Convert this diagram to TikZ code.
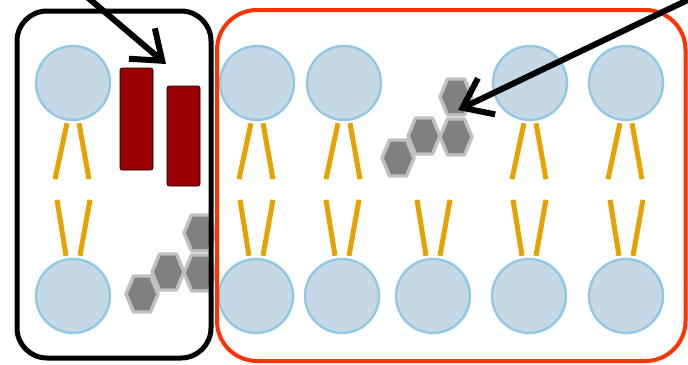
\documentclass[tikz,border=0pt]{standalone}
\usepackage{tikz}
\usetikzlibrary{positioning}
\usetikzlibrary{arrows.meta}

\definecolor{headfill}{RGB}{197,216,230}
\definecolor{headline}{RGB}{145,200,228}
\definecolor{tailcol}{RGB}{230,162,0}
\definecolor{peptide}{RGB}{153,0,0}
\definecolor{drugfill}{RGB}{128,128,128}
\definecolor{drugline}{RGB}{192,192,192}
\definecolor{raftcol}{RGB}{255,51,0}

\newcommand{\hexa}[2]{\draw[drug] (#1-16,#2)--(#1-8.5,#2-18)--(#1+8.5,#2-18)--(#1+16,#2)--(#1+8.5,#2+18)--(#1-8.5,#2+18)--cycle;}

\begin{document}
\begin{tikzpicture}[x=0.75pt,y=-0.75pt,
  head/.style={circle,draw=headline,fill=headfill,line width=1.8pt,minimum size=55.5pt,inner sep=0pt},
  tail/.style={draw=tailcol,line width=3.75pt},
  drug/.style={fill=drugfill,draw=drugline,line width=2.6pt,line join=round},
  pep/.style={fill=peptide,rounded corners=1.5pt},
  pointer/.style={draw=black,line width=4.5pt,-{Straight Barb[length=20pt,width=30pt]}}]
 \useasboundingbox (0,0) rectangle (688,364);
 % heads of the upper and lower leaflet
 \foreach \x [count=\i] in {73,257,344,530,626}
   \node[head] (t\i) at (\x,83) {};
 \foreach \x [count=\i] in {73,256,342,433,529,626}
   \node[head] (b\i) at (\x,296) {};
 % tails
 \foreach \i in {1,...,5}{
   \draw[tail] ([shift={(-6,2)}]t\i.south) --++(-12,56);
   \draw[tail] ([shift={(6,2)}]t\i.south) --++(10,56);
 }
 \foreach \i in {1,...,6}{
   \draw[tail] ([shift={(-7,-2)}]b\i.north) --++(-9,-56);
   \draw[tail] ([shift={(7,-2)}]b\i.north) --++(10,-56);
 }
 % small molecules
 \foreach \ox/\oy in {142/294,398/158}{
   \hexa{\ox}{\oy}
   \hexa{\ox+26}{\oy-22}
   \hexa{\ox+58}{\oy-21}
   \hexa{\ox+58}{\oy-61}
 }
 % peptides
 \draw[pep] (120,68) rectangle (153,170);
 \draw[pep] (167,86) rectangle (200,186);
 % domains
 \draw[line width=3.75pt,rounded corners=22.5pt] (17,11) rectangle (211,358);
 \draw[raftcol,line width=3pt,rounded corners=30pt] (217,10) rectangle (685.5,361);
 \coordinate (s1) at (86,-4);
 \coordinate (e1) at (166,64);
 \coordinate (s2) at (694,-3);
 \coordinate (e2) at (458,110);
 \draw[pointer] (s1) -- (e1);
 \draw[pointer] (s2) -- (e2);
\end{tikzpicture}
\end{document}
